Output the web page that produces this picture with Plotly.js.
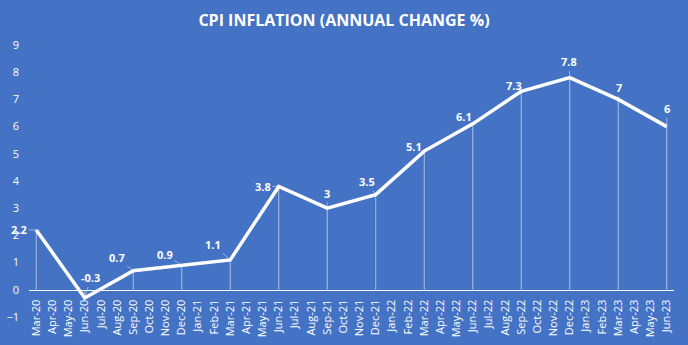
<!DOCTYPE html>
<html>
<head>
<meta charset="utf-8">
<script src="https://cdn.plot.ly/plotly-3.0.1.min.js"></script>
<style>html,body{margin:0;padding:0;background:#4472C4;}#chart{width:688px;height:345px;}</style>
</head>
<body>
<div id="chart"></div>
<script>
// Monthly axis categories
const months = ["Mar-20","Apr-20","May-20","Jun-20","Jul-20","Aug-20","Sep-20","Oct-20","Nov-20","Dec-20",
  "Jan-21","Feb-21","Mar-21","Apr-21","May-21","Jun-21","Jul-21","Aug-21","Sep-21","Oct-21","Nov-21","Dec-21",
  "Jan-22","Feb-22","Mar-22","Apr-22","May-22","Jun-22","Jul-22","Aug-22","Sep-22","Oct-22","Nov-22","Dec-22",
  "Jan-23","Feb-23","Mar-23","Apr-23","May-23","Jun-23"];
// Quarterly observations
const dates = ["Mar-20","Jun-20","Sep-20","Dec-20","Mar-21","Jun-21","Sep-21","Dec-21","Mar-22","Jun-22","Sep-22","Dec-22","Mar-23","Jun-23"];
const cpi = [2.2,-0.3,0.7,0.9,1.1,3.8,3,3.5,5.1,6.1,7.3,7.8,7,6];
// label offsets (pixels) for data labels
const labelDx = [-17,6,-16,-17,-17,-16,0,-9,-10,-9,-7,-1,1,0];
const labelDy = [0,-20,-13,-11,-15,0,-15,-13,-5,-7,-6,-16,-12,-18];

const dropX = [], dropY = [];
dates.forEach((d,i)=>{ dropX.push(d,d,null); dropY.push(cpi[i],0,null); });

const traces = [
  {x: dropX, y: dropY, type:'scatter', mode:'lines', line:{color:'rgba(255,255,255,0.55)', width:1}, hoverinfo:'skip', showlegend:false},
  {x: dates, y: cpi, type:'scatter', mode:'lines', line:{color:'#ffffff', width:3.5}, showlegend:false}
];

const annotations = dates.map((d,i)=>({
  x: d, y: cpi[i], xref:'x', yref:'y', text: String(cpi[i]),
  showarrow:true, arrowhead:0, arrowwidth:1, arrowcolor:'rgba(255,255,255,0.45)',
  ax: labelDx[i], ay: labelDy[i], standoff:0, startstandoff:0,
  font:{family:'Open Sans, sans-serif', size:11, color:'#ffffff', weight:'bold'}
}));

const layout = {
  width:688, height:345,
  paper_bgcolor:'#4472C4', plot_bgcolor:'#4472C4',
  margin:{l:29, r:14, t:45, b:28},
  title:{text:'<b>CPI INFLATION (ANNUAL CHANGE %)</b>', x:0.5, xanchor:'center', y:0.94, yanchor:'middle',
    font:{family:'Open Sans, sans-serif', size:16, color:'#ffffff'}},
  xaxis:{type:'category', categoryorder:'array', categoryarray:months, range:[-0.45,39.45],
    tickmode:'array', tickvals:months, ticktext:months, tickangle:-90,
    anchor:'free', position:0.1, showline:true, linecolor:'#ffffff', linewidth:1.5,
    showgrid:false, zeroline:false, ticks:'', ticklabelstandoff:4,
    tickfont:{family:'Open Sans, sans-serif', size:11, color:'#ffffff'}},
  yaxis:{range:[-1,9], dtick:1, showgrid:false, zeroline:false, showline:false, ticks:'',
    ticklabelstandoff:9, tickfont:{family:'Open Sans, sans-serif', size:11, color:'#ffffff'}},
  annotations: annotations,
  showlegend:false
};

Plotly.newPlot('chart', traces, layout, {displayModeBar:false, staticPlot:true});
</script>
</body>
</html>
